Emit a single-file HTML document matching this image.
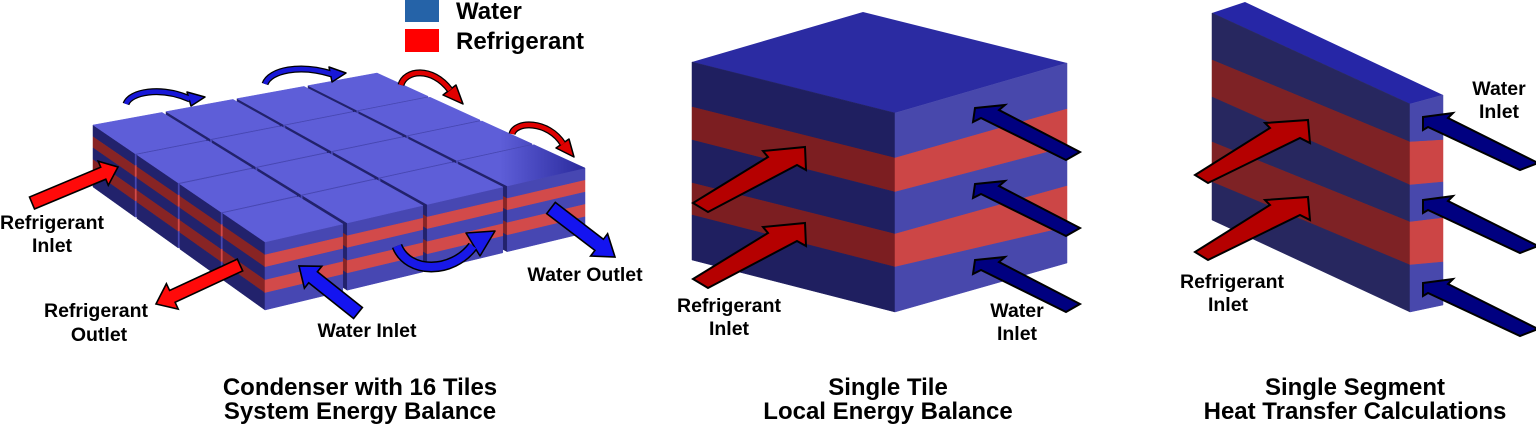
<!DOCTYPE html>
<html><head><meta charset="utf-8"><style>
html,body{margin:0;padding:0;background:#fff;width:1536px;height:430px;overflow:hidden}
svg{display:block}
text{font-family:"Liberation Sans",Arial,sans-serif;font-weight:bold;fill:#000}
</style></head><body>
<svg width="1536" height="430" viewBox="0 0 1536 430" xmlns="http://www.w3.org/2000/svg">
<defs>
<linearGradient id="g4" gradientUnits="userSpaceOnUse" x1="500" y1="0" x2="585" y2="0">
<stop offset="0" stop-color="#5e5ed8"/><stop offset="1" stop-color="#2a2a9c"/></linearGradient>
</defs>

<!-- Legend -->
<rect x="405" y="0" width="34" height="22" fill="#2563a8"/>
<rect x="405" y="29" width="34" height="23" fill="#ff0000"/>
<text x="456" y="19" font-size="24">Water</text>
<text x="456" y="49" font-size="24">Refrigerant</text>

<!-- Condenser block (generated) -->
<g id="cond"></g>

<!-- Curved arrows -->
<g stroke-linejoin="round" stroke-linecap="butt">
  <path d="M126,104 C130,92 160,86 190,99" fill="none" stroke="#000" stroke-width="7"/>
  <polygon points="187,92 205,97 191,106" fill="#1818d8" stroke="#000" stroke-width="1.5"/>
  <path d="M126,104 C130,92 160,86 190,99" fill="none" stroke="#1818d8" stroke-width="4.5"/>

  <path d="M265,84 C270,70 300,64 332,74" fill="none" stroke="#000" stroke-width="7"/>
  <polygon points="329,67 346,73 332,82" fill="#1818d8" stroke="#000" stroke-width="1.5"/>
  <path d="M265,84 C270,70 300,64 332,74" fill="none" stroke="#1818d8" stroke-width="4.5"/>

  <path d="M401,85 C405,70 432,66 450,90" fill="none" stroke="#000" stroke-width="7"/>
  <polygon points="456,85 463,104 443,95" fill="#e00000" stroke="#000" stroke-width="1.5"/>
  <path d="M401,85 C405,70 432,66 450,90" fill="none" stroke="#e00000" stroke-width="4.5"/>

  <path d="M512,134 C515,121 548,120 563,144" fill="none" stroke="#000" stroke-width="7"/>
  <polygon points="569,139 574,157 556,148" fill="#e00000" stroke="#000" stroke-width="1.5"/>
  <path d="M512,134 C515,121 548,120 563,144" fill="none" stroke="#e00000" stroke-width="4.5"/>

  <path d="M397,246 C408,274 452,274 473,246" fill="none" stroke="#000" stroke-width="11"/>
  <polygon points="466,233 495,231 480,256" fill="#1818e8" stroke="#000" stroke-width="1.5"/>
  <path d="M397,246 C408,274 452,274 473,246" fill="none" stroke="#1818e8" stroke-width="8"/>
</g>

<!-- Condenser straight arrows (generated) -->
<g id="arr"></g>

<!-- Condenser labels -->
<g font-size="19.5" text-anchor="middle">
  <text x="52" y="229" font-size="19.5">Refrigerant</text>
  <text x="52" y="252" font-size="19.5">Inlet</text>
  <text x="96" y="317" font-size="19.5">Refrigerant</text>
  <text x="99" y="341" font-size="19.5">Outlet</text>
  <text x="367" y="337" font-size="19.5">Water Inlet</text>
  <text x="585" y="281" font-size="19.5">Water Outlet</text>
</g>

<!-- Middle single tile -->
<polygon points="692,62 863,12 1067,63 895,113" fill="#2b2ba2"/>
<g stroke-width="0.5">
<polygon points="692,62 895,113 895,158 692,107" fill="#1f1f60" stroke="#1f1f60"/>
<polygon points="692,107 895,158 895,192 692,140" fill="#7c1e21" stroke="#7c1e21"/>
<polygon points="692,140 895,192 895,234 692,183" fill="#1f1f60" stroke="#1f1f60"/>
<polygon points="692,183 895,234 895,267 692,215" fill="#7c1e21" stroke="#7c1e21"/>
<polygon points="692,215 895,267 895,312 692,260" fill="#1f1f60" stroke="#1f1f60"/>
<polygon points="895,113 1067,63 1067,109 895,158" fill="#4848ac" stroke="#4848ac"/>
<polygon points="895,158 1067,109 1067,147 895,192" fill="#cc4646" stroke="#cc4646"/>
<polygon points="895,192 1067,147 1067,186 895,234" fill="#4848ac" stroke="#4848ac"/>
<polygon points="895,234 1067,186 1067,227 895,267" fill="#cc4646" stroke="#cc4646"/>
<polygon points="895,267 1067,227 1067,263 895,312" fill="#4848ac" stroke="#4848ac"/>
</g>
<g stroke="#000" stroke-width="2" stroke-linejoin="miter">
<polygon points="805,147 806,170 797,165 708,212 693,203 768,157 763,151" fill="#b50000"/>
<polygon points="805,223 806,246 797,241 708,288 693,279 768,233 763,227" fill="#b50000"/>
<polygon points="975,108 1005,105 999,110 1080,152 1066,160 981,118 973,122" fill="#000080"/>
<polygon points="975,184 1005,181 999,186 1080,228 1066,236 981,194 973,198" fill="#000080"/>
<polygon points="975,260 1005,257 999,262 1080,304 1066,312 981,270 973,274" fill="#000080"/>
</g>
<g text-anchor="middle">
  <text x="729" y="312" font-size="19.5">Refrigerant</text>
  <text x="729" y="335" font-size="19.5">Inlet</text>
  <text x="1017" y="317" font-size="19.5">Water</text>
  <text x="1017" y="340" font-size="19.5">Inlet</text>
</g>

<!-- Right single segment -->
<polygon points="1212,13 1245,2 1443,95 1410,104" fill="#2626a6"/>
<g stroke-width="0.5">
<polygon points="1212,13 1410,104 1410,142 1212,60" fill="#27275f" stroke="#27275f"/>
<polygon points="1212,60 1410,142 1410,185 1212,97" fill="#7e2225" stroke="#7e2225"/>
<polygon points="1212,97 1410,185 1410,222 1212,142" fill="#27275f" stroke="#27275f"/>
<polygon points="1212,142 1410,222 1410,265 1212,182" fill="#7e2225" stroke="#7e2225"/>
<polygon points="1212,182 1410,265 1410,312 1212,220" fill="#27275f" stroke="#27275f"/>
<polygon points="1410,104 1443,95 1443,140 1410,142" fill="#4848ac" stroke="#4848ac"/>
<polygon points="1410,142 1443,140 1443,182 1410,185" fill="#cc4545" stroke="#cc4545"/>
<polygon points="1410,185 1443,182 1443,218 1410,222" fill="#4848ac" stroke="#4848ac"/>
<polygon points="1410,222 1443,218 1443,262 1410,265" fill="#cc4545" stroke="#cc4545"/>
<polygon points="1410,265 1443,262 1443,305 1410,312" fill="#4848ac" stroke="#4848ac"/>
</g>
<g stroke="#000" stroke-width="2" stroke-linejoin="miter">
<polygon points="1308,120 1310,143 1300,138 1208,183 1195,175 1270,128 1265,123" fill="#b50000"/>
<polygon points="1308,197 1310,220 1300,215 1208,260 1195,252 1270,205 1265,200" fill="#b50000"/>
<polygon points="1423,117 1453,113 1448,118 1538,163 1520,170 1428,127 1423,130" fill="#000080"/>
<polygon points="1423,200 1453,196 1448,201 1538,246 1520,253 1428,210 1423,213" fill="#000080"/>
<polygon points="1423,283 1453,279 1448,284 1538,329 1520,336 1428,293 1423,296" fill="#000080"/>
</g>
<g text-anchor="middle">
  <text x="1499" y="95" font-size="19.5">Water</text>
  <text x="1499" y="118" font-size="19.5">Inlet</text>
  <text x="1232" y="288" font-size="19.5">Refrigerant</text>
  <text x="1228" y="311" font-size="19.5">Inlet</text>
</g>

<!-- Titles -->
<g text-anchor="middle" font-size="24">
  <text x="360" y="395" font-size="24">Condenser with 16 Tiles</text>
  <text x="360" y="419" font-size="24">System Energy Balance</text>
  <text x="888" y="395" font-size="24">Single Tile</text>
  <text x="888" y="419" font-size="24">Local Energy Balance</text>
  <text x="1355" y="395" font-size="24">Single Segment</text>
  <text x="1355" y="419" font-size="24">Heat Transfer Calculations</text>
</g>
</svg>
<script>
(function(){
var NS="http://www.w3.org/2000/svg";
var g=document.getElementById('cond');
function poly(target,pts,fill,stroke,sw){
  var e=document.createElementNS(NS,'polygon');
  e.setAttribute('points',pts.map(function(p){return p[0].toFixed(1)+','+p[1].toFixed(1);}).join(' '));
  e.setAttribute('fill',fill);
  e.setAttribute('stroke',stroke||fill);
  e.setAttribute('stroke-width',sw||'0.5');
  e.setAttribute('stroke-linejoin','miter');
  target.appendChild(e);
}
var A=[93,125],B=[265,242],C=[585,168],D=[377,73];
function P(s,t){
  return [(1-s)*(1-t)*A[0]+s*(1-t)*B[0]+s*t*C[0]+(1-s)*t*D[0],
          (1-s)*(1-t)*A[1]+s*(1-t)*B[1]+s*t*C[1]+(1-s)*t*D[1]];
}
function H(s,t){return 62+6*s-3*t;}
var fr=[0.19,0.18,0.19,0.19,0.25];
function face(p,q,hp,hq,c1,c2){
  var a=0;
  for(var k=0;k<5;k++){
    var b=a+fr[k];
    poly(g,[[p[0],p[1]+hp*a],[q[0],q[1]+hq*a],[q[0],q[1]+hq*b],[p[0],p[1]+hp*b]],k%2?c2:c1);
    a=b;
  }
}
var gs=0.01,gt=0.014;
for(var j=3;j>=0;j--){
  for(var i=0;i<4;i++){
    var s0=i/4+(i?gs/2:0), s1=(i+1)/4-(i<3?gs/2:0);
    var t0=j/4+(j?gt/2:0), t1=(j+1)/4-(j<3?gt/2:0);
    var a=P(s0,t0),b=P(s1,t0),c=P(s1,t1),d=P(s0,t1);
    face(a,b,H(s0,t0),H(s1,t0),'#22226c','#882424');
    face(b,c,H(s1,t0),H(s1,t1),'#4747b2','#d24a4a');
    poly(g,[a,d,c,b], j==3?'url(#g4)':'#5e5ed8');
  }
}
var ga=document.getElementById('arr');
function arrow(T,Pt,sw,hw,hl,fill){
  var dx=Pt[0]-T[0],dy=Pt[1]-T[1],L=Math.sqrt(dx*dx+dy*dy),ux=dx/L,uy=dy/L,nx=-uy,ny=ux;
  var bx=Pt[0]-ux*hl,by=Pt[1]-uy*hl;
  poly(ga,[[T[0]+nx*sw/2,T[1]+ny*sw/2],[bx+nx*sw/2,by+ny*sw/2],[bx+nx*hw/2,by+ny*hw/2],Pt,
        [bx-nx*hw/2,by-ny*hw/2],[bx-nx*sw/2,by-ny*sw/2],[T[0]-nx*sw/2,T[1]-ny*sw/2]],fill,'#000','1.6');
}
arrow([32,203],[118,167],13,26,16,'#ff0a0a');
arrow([240,265],[156,304],13,28,18,'#ff0a0a');
arrow([358,313],[299,266],14,28,18,'#1414f0');
arrow([551,208],[615,257],14,28,20,'#1414f0');
})();
</script>
</body></html>
